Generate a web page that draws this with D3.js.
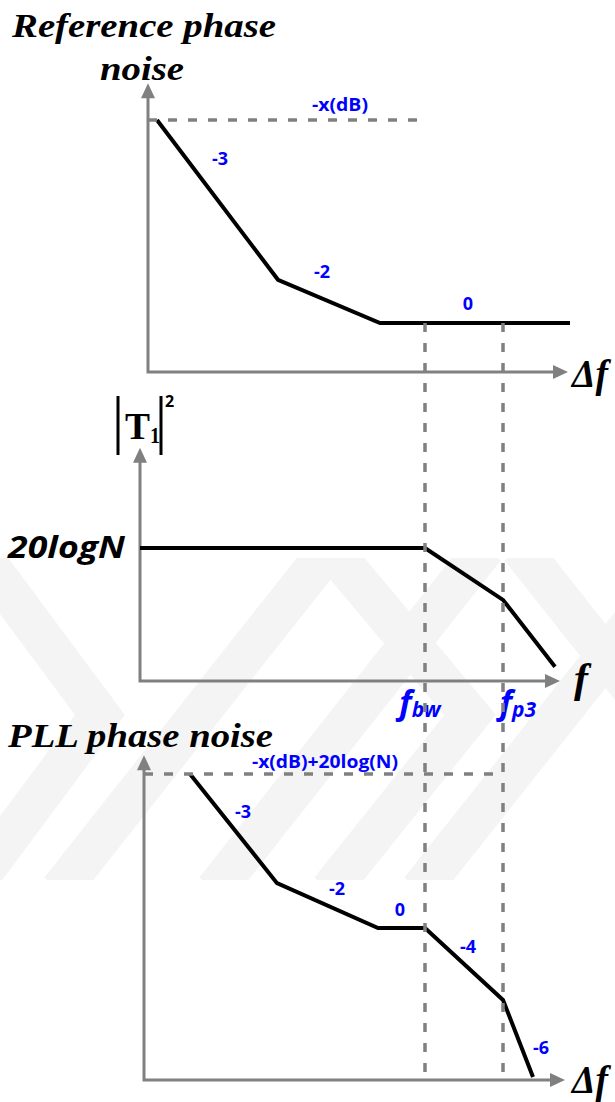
<!DOCTYPE html>
<html>
<head>
<meta charset="utf-8">
<script src="https://cdn.jsdelivr.net/npm/d3@7"></script>
<style>
  html, body { margin: 0; padding: 0; background: #ffffff; }
  svg { display: block; }
</style>
</head>
<body>
<svg id="chart" width="615" height="1102"></svg>
<script>
// Break frequencies shared by all three panels (log-frequency units)
const fBW = 28.5;
const fP3 = 36.3;

// Reference phase noise: corner points and slope annotations
const refX = [1.7, 13.8, 24.0, 43.0];
const refY = [50, 18.3, 9.7, 9.7];
const refSlopes = ["-3", "-2", "0"];
const refSlopeX = [8.0, 18.2, 32.8];
const refSlopeY = [41.1, 18.6, 12.3];
const refLevel = 50;
const refLevelLabel = "-x(dB)";

// Loop transfer |T1|^2
const tfX = [0, fBW, fP3, 41.5];
const tfY = [30, 30, 18.3, 3.2];
const tfLevelLabel = "20logN";

// PLL output phase noise
const pllX = [5.0, 13.7, 23.8, fBW, fP3, 39.3];
const pllY = [60, 38.6, 29.8, 29.8, 15.7, 0.6];
const pllSlopes = ["-3", "-2", "0", "-4", "-6"];
const pllSlopeX = [10.3, 19.7, 26.0, 32.8, 40.1];
const pllSlopeY = [51.4, 36.3, 32.2, 24.9, 5.1];
const pllLevel = 60;
const pllLevelLabel = "-x(dB)+20log(N)";

const svg = d3.select("#chart");
const GRAY = "#808080", BLUE = "#0000ff", BLACK = "#000000";
const SERIF = "'Liberation Serif', 'Times New Roman', serif";
const SANS = "'Open Sans', 'Noto Sans', sans-serif";

// Shared horizontal scale
const x = d3.scaleLinear().domain([0, 42]).range([140, 560]);
// One vertical scale per panel
const yRef = d3.scaleLinear().domain([0, 50]).range([372, 120]);
const yTF = d3.scaleLinear().domain([0, 30]).range([681, 548]);
const yPLL = d3.scaleLinear().domain([0, 60]).range([1080, 774]);

// Faint background emblem
const wm = svg.append("g").attr("fill", "none").attr("stroke", "#f4f4f4")
  .attr("stroke-width", 40).attr("stroke-linecap", "butt").attr("stroke-linejoin", "miter");
const wmPaths = [
  [[-30, 540], [100, 715], [-30, 890]],
  [[60, 890], [330, 548]],
  [[215, 890], [485, 548]],
  [[330, 548], [470, 715], [330, 890]],
  [[420, 890], [650, 600]],
  [[520, 548], [650, 712]]
];
const wmClip = svg.append("clipPath").attr("id", "wmclip");
wmClip.append("rect").attr("x", 0).attr("y", 558).attr("width", 615).attr("height", 322);
wm.attr("clip-path", "url(#wmclip)");
wmPaths.forEach(p => wm.append("path").attr("d", d3.line()(p)));

// Axis with arrowheads
function arrowAxes(x0, x1, yScale, yTip) {
  const ox = x(x0), oy = yScale(0);
  const tx = x(x1), ty = yScale(yTip);
  const g = svg.append("g");
  g.append("path")
    .attr("d", `M${ox},${ty + 13}V${oy}H${tx - 13}`)
    .attr("fill", "none").attr("stroke", GRAY).attr("stroke-width", 3);
  g.append("path")
    .attr("d", `M${ox},${ty}L${ox - 7},${ty + 15}L${ox + 7},${ty + 15}Z`)
    .attr("fill", GRAY);
  g.append("path")
    .attr("d", `M${tx},${oy}L${tx - 15},${oy - 7}L${tx - 15},${oy + 7}Z`)
    .attr("fill", GRAY);
}

function curve(xs, ys, yScale) {
  const pts = xs.map((d, i) => [x(d), yScale(ys[i])]);
  svg.append("path")
    .attr("d", d3.line()(pts))
    .attr("fill", "none").attr("stroke", BLACK)
    .attr("stroke-width", 4).attr("stroke-linejoin", "miter");
}

function dashed(x1, y1, x2, y2) {
  svg.append("line")
    .attr("x1", x1).attr("y1", y1).attr("x2", x2).attr("y2", y2)
    .attr("stroke", GRAY).attr("stroke-width", 3.5)
    .attr("stroke-dasharray", "9,11");
}

function label(str, px, py, opts) {
  const t = svg.append("text")
    .attr("x", px).attr("y", py)
    .attr("font-family", opts.family || SANS)
    .attr("font-size", opts.size)
    .attr("font-weight", opts.weight || "bold")
    .attr("font-style", opts.style || "normal")
    .attr("fill", opts.color || BLACK)
    .attr("text-anchor", opts.anchor || "middle")
    .text(str);
  if (opts.width) t.attr("textLength", opts.width).attr("lengthAdjust", "spacingAndGlyphs");
  return t;
}

// ---------- Panel 1: reference phase noise ----------
arrowAxes(0.8, 42.8, yRef, 57.3);
curve(refX, refY, yRef);
dashed(x(0.8), yRef(refLevel), x(28.0), yRef(refLevel));
label("Reference phase", 144, 37, { family: SERIF, size: 34, style: "italic", width: 264 });
label("noise", 142, 80, { family: SERIF, size: 34, style: "italic", width: 84 });
label(refLevelLabel, x(20.0), yRef(51.8), { size: 18, color: BLUE, width: 56 });
refSlopes.forEach((s, i) =>
  label(s, x(refSlopeX[i]), yRef(refSlopeY[i]), { size: 18, color: BLUE }));
label("\u0394f", 572, 387, { family: SERIF, size: 39, style: "italic", anchor: "start", width: 36 });

// ---------- Panel 2: |T1|^2 ----------
arrowAxes(0, 42, yTF, 52.6);
curve(tfX, tfY, yTF);
label(tfLevelLabel, 8, 558, { size: 31, style: "italic", anchor: "start", width: 117 });
// |T1|^2 axis title
const tt = svg.append("g");
tt.append("line").attr("x1", 118).attr("x2", 118).attr("y1", 396).attr("y2", 455)
  .attr("stroke", BLACK).attr("stroke-width", 3);
tt.append("line").attr("x1", 161).attr("x2", 161).attr("y1", 396).attr("y2", 455)
  .attr("stroke", BLACK).attr("stroke-width", 3);
label("T", 125, 439, { family: SERIF, size: 38, anchor: "start", width: 25 });
label("1", 150, 443, { family: SERIF, size: 23, anchor: "start", width: 10 });
label("2", 165, 407, { size: 16, anchor: "start" });
label("f", 574, 692, { family: SERIF, size: 42, style: "italic", anchor: "start" });

// Break frequency labels
function subLabel(main, sub, px) {
  const t = svg.append("text")
    .attr("x", px).attr("y", 714)
    .attr("font-family", SANS).attr("font-weight", "bold").attr("font-style", "italic")
    .attr("fill", BLUE).attr("text-anchor", "middle");
  t.append("tspan").attr("font-size", 33).text(main);
  t.append("tspan").attr("font-size", 21).attr("dy", 3).text(sub);
  return t;
}
subLabel("f", "bw", x(fBW) - 5);
subLabel("f", "p3", x(fP3) + 15);

// ---------- Panel 3: PLL phase noise ----------
arrowAxes(0.4, 42.5, yPLL, 63.7);
curve(pllX, pllY, yPLL);
dashed(x(0.4), yPLL(pllLevel), x(fP3), yPLL(pllLevel));
label("PLL phase noise", 8, 747, { family: SERIF, size: 34, style: "italic", anchor: "start", width: 265 });
label(pllLevelLabel, x(18.5), yPLL(61.2), { size: 18, color: BLUE, width: 146 });
pllSlopes.forEach((s, i) =>
  label(s, x(pllSlopeX[i]), yPLL(pllSlopeY[i]), { size: 18, color: BLUE }));
label("\u0394f", 572, 1093, { family: SERIF, size: 39, style: "italic", anchor: "start", width: 36 });

// Vertical guides at the break frequencies, spanning all panels
[fBW, fP3].forEach(f => dashed(x(f), yRef(9.7), x(f), yPLL(0)));
</script>
</body>
</html>
